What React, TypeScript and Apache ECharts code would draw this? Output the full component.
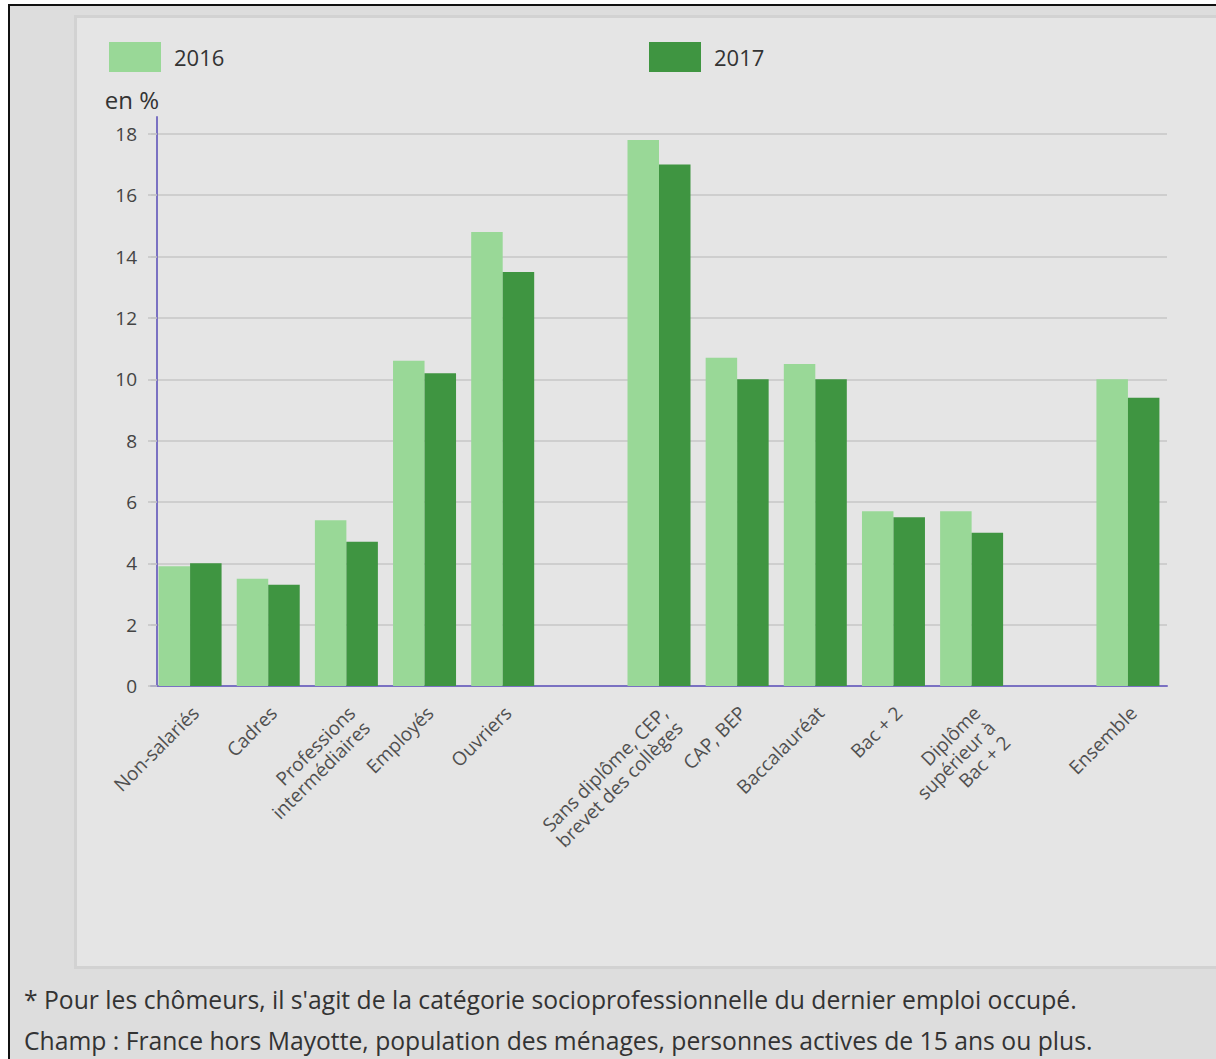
import React, { useEffect, useRef } from 'react';
import * as echarts from 'echarts';

const categories = [
  'Non-salariés',
  'Cadres',
  'Professions\nintermédiaires',
  'Employés',
  'Ouvriers',
  ' ',
  'Sans diplôme, CEP,\nbrevet des collèges',
  'CAP, BEP',
  'Baccalauréat',
  'Bac + 2',
  'Diplôme\nsupérieur à\nBac + 2',
  '  ',
  'Ensemble',
];
const values2016 = [3.9, 3.5, 5.4, 10.6, 14.8, null, 17.8, 10.7, 10.5, 5.7, 5.7, null, 10.0];
const values2017 = [4.0, 3.3, 4.7, 10.2, 13.5, null, 17.0, 10.0, 10.0, 5.5, 5.0, null, 9.4];
const yTicks = [0, 2, 4, 6, 8, 10, 12, 14, 16, 18];
const seriesNames = ['2016', '2017'];
const unitLabel = 'en %';
const footnotes = [
  "* Pour les chômeurs, il s'agit de la catégorie socioprofessionnelle du dernier emploi occupé.",
  'Champ : France hors Mayotte, population des ménages, personnes actives de 15 ans ou plus.',
];

const FONT = '"Open Sans", "Noto Sans", sans-serif';
const LIGHT = '#99d897';
const DARK = '#3f9541';
const AXIS = '#7a71c2';

export default function App() {
  const ref = useRef<HTMLDivElement>(null);

  useEffect(() => {
    document.body.style.margin = '0';
    if (!ref.current) return;
    const chart = echarts.init(ref.current, null, { renderer: 'svg' });
    const legendBase = {
      top: 42,
      padding: 0,
      itemWidth: 52,
      itemHeight: 30,
      icon: 'rect',
      selectedMode: false,
      textStyle: { fontSize: 22, color: '#333', fontFamily: FONT, padding: [4, 0, 0, 8] },
    };
    const option: any = {
      animation: false,
      backgroundColor: 'transparent',
      textStyle: { fontFamily: FONT },
      legend: [
        { ...legendBase, data: [seriesNames[0]], left: 109 },
        { ...legendBase, data: [seriesNames[1]], left: 649 },
      ],
      grid: { left: 151, right: 49, top: 117, bottom: 1059 - 686, containLabel: false },
      xAxis: {
        type: 'category',
        data: categories,
        axisLine: { show: true, lineStyle: { color: AXIS, width: 2 } },
        axisTick: { show: false },
        axisLabel: {
          interval: 0,
          rotate: 45,
          margin: 14,
          verticalAlign: 'top',
          padding: [0, 3, 0, 0],
          fontSize: 19,
          lineHeight: 21,
          color: '#505050',
          fontFamily: FONT,
        },
      },
      yAxis: {
        type: 'value',
        min: 0,
        max: 18.55,
        interval: 2,
        offset: -6,
        name: unitLabel,
        nameLocation: 'end',
        nameGap: 6,
        nameTextStyle: { fontSize: 24, color: '#333', fontFamily: FONT, align: 'right', padding: [0, -2, 0, 0] },
        axisLine: { show: true, lineStyle: { color: AXIS, width: 2 } },
        axisTick: { show: true, length: 9, customValues: yTicks, lineStyle: { color: '#c4c4c4', width: 1.5 } },
        axisLabel: {
          customValues: yTicks,
          margin: 20,
          fontSize: 19,
          color: '#444',
          fontFamily: FONT,
        },
        splitLine: { show: true, lineStyle: { color: '#c6c6c6', width: 1.5 } },
      },
      series: [
        {
          name: seriesNames[0],
          type: 'bar',
          data: values2016.map((v) => (v === null ? '-' : v)),
          barWidth: 31.5,
          barGap: '0%',
          itemStyle: { color: LIGHT },
        },
        {
          name: seriesNames[1],
          type: 'bar',
          data: values2017.map((v) => (v === null ? '-' : v)),
          barWidth: 31.5,
          barGap: '0%',
          itemStyle: { color: DARK },
        },
      ],
      graphic: footnotes.map((t, i) => ({
        type: 'text',
        left: 24,
        top: 987 + i * 41,
        z: 100,
        style: { text: t, fontSize: 24.7, fill: '#333', fontFamily: FONT },
      })),
    };
    chart.setOption(option);
    return () => chart.dispose();
  }, []);

  return (
    <div style={{ position: 'relative', width: 1216, height: 1059, background: '#fff', overflow: 'hidden' }}>
      <div
        style={{
          position: 'absolute',
          left: 8,
          top: 4,
          width: 1300,
          height: 1200,
          background: '#dddddd',
          borderLeft: '2px solid #111',
          borderTop: '2px solid #111',
        }}
      />
      <div
        style={{
          position: 'absolute',
          left: 74,
          top: 15,
          width: 1300,
          height: 954,
          background: '#e5e5e5',
          border: '3px solid #d2d2d2',
          boxSizing: 'border-box',
        }}
      />
      <div ref={ref} style={{ position: 'absolute', left: 0, top: 0, width: 1216, height: 1059 }} />
    </div>
  );
}
